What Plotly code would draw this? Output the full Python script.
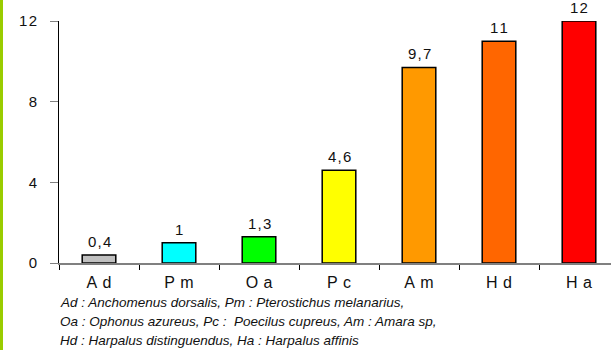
import plotly.graph_objects as go

# Données
especes = ['Ad', 'Pm', 'Oa', 'Pc', 'Am', 'Hd', 'Ha']
valeurs = [0.4, 1, 1.3, 4.6, 9.7, 11, 12]
etiquettes = ['0,4', '1', '1,3', '4,6', '9,7', '11', '12']
couleurs = ['#c0c0c0', '#00ffff', '#00ff00', '#ffff00', '#ff9900', '#ff6600', '#ff0000']
legende = [
    'Ad : Anchomenus dorsalis, Pm : Pterostichus melanarius,',
    'Oa : Ophonus azureus, Pc :  Poecilus cupreus, Am : Amara sp,',
    'Hd : Harpalus distinguendus, Ha : Harpalus affinis',
]


def espace(s, sep='\u200a'):
    # texte étiré comme dans le graphique d'origine
    return sep.join(s)


fig = go.Figure()

fig.add_trace(go.Bar(
    x=especes,
    y=valeurs,
    width=0.42,
    marker=dict(color=couleurs, line=dict(color='#000000', width=1.5)),
    cliponaxis=False,
    hoverinfo='skip',
))

# valeurs au-dessus des barres
for esp, val, lab in zip(especes, valeurs, etiquettes):
    fig.add_annotation(
        x=esp, y=val, text=espace(lab), showarrow=False,
        yanchor='bottom', yshift=3,
        font=dict(family='Arial, Liberation Sans', size=15, color='#111111'),
    )

# texte explicatif sous l'axe
for i, ligne in enumerate(legende):
    fig.add_annotation(
        text='<i>' + ligne + '</i>',
        xref='paper', yref='paper', x=-0.002, xanchor='left',
        y=0, yshift=-39 - 19 * i, yanchor='middle',
        showarrow=False,
        font=dict(family='Arial, Liberation Sans', size=13.5, color='#111111'),
    )

# bande verte à gauche
fig.add_shape(
    type='rect', xref='paper', yref='paper',
    x0=-59 / 552, x1=-56 / 552, y0=-1, y1=2,
    fillcolor='#99cc00', line=dict(width=0), layer='above',
)

fig.update_layout(
    width=611, height=350,
    margin=dict(l=59, r=0, t=21, b=87),
    plot_bgcolor='white', paper_bgcolor='white',
    showlegend=False,
    xaxis=dict(
        range=[-0.5, 6.4],
        tickvals=especes,
        ticktext=[espace(e, '\u2004') for e in especes],
        showline=True, linecolor='#808080', linewidth=1.5,
        ticks='outside', tickson='boundaries', ticklen=5, tickcolor='#000000',
        ticklabelstandoff=4,
        tickfont=dict(family='Arial, Liberation Sans', size=16, color='#111111'),
        showgrid=False,
    ),
    yaxis=dict(
        range=[0, 12],
        tickvals=[0, 4, 8, 12],
        ticktext=[espace(str(v)) for v in [0, 4, 8, 12]],
        showline=True, linecolor='#000000', linewidth=1,
        ticks='outside', ticklen=8, tickcolor='#808080',
        ticklabelstandoff=10,
        tickfont=dict(family='Arial, Liberation Sans', size=15, color='#111111'),
        showgrid=False, zeroline=False,
    ),
)

fig.write_html('out.html', config={'displayModeBar': False},
               post_script="document.body.style.margin='0';")
